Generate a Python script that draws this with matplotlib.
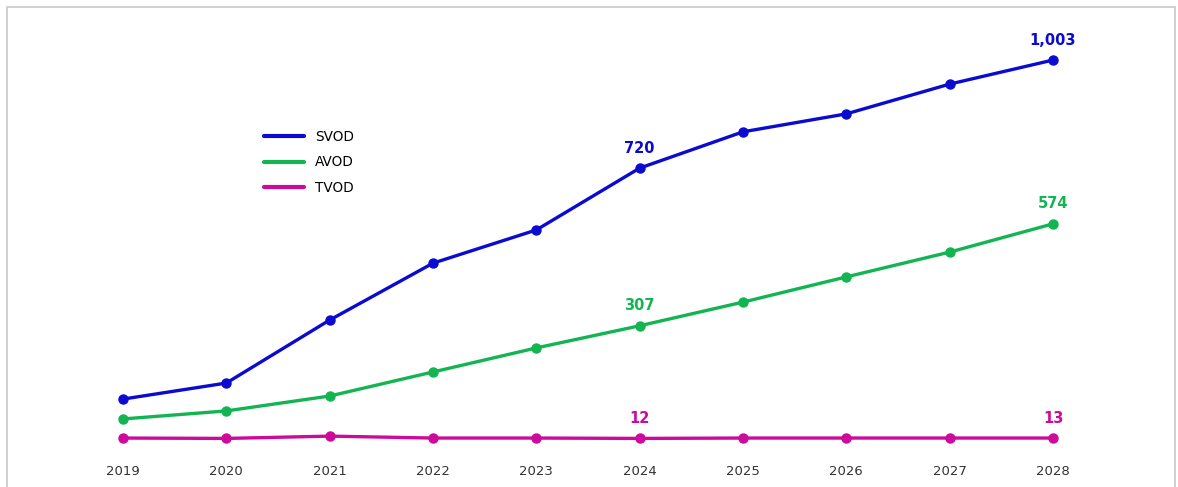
import matplotlib
matplotlib.use("Agg")
import matplotlib.pyplot as plt
from matplotlib.patches import Rectangle

# data
years = [2019, 2020, 2021, 2022, 2023, 2024, 2025, 2026, 2027, 2028]
svod = [115, 157, 322, 471, 558, 720, 815, 862, 940, 1003]
avod = [63, 84, 123, 186, 249, 307, 369, 435, 500, 574]
tvod = [13, 12, 18, 13, 13, 12, 13, 13, 13, 13]

# which points get a value label
svod_labels = [(2024, 720), (2028, 1003)]
avod_labels = [(2024, 307), (2028, 574)]
tvod_labels = [(2024, 12), (2028, 13)]

blue = '#0a0ad0'
green = '#12b552'
magenta = '#cc0a9c'

W, H = 1178, 487
fig = plt.figure(figsize=(W / 100, H / 100), dpi=100)

# light grey frame around the figure (open at the bottom)
fig.patches.append(Rectangle((7 / W, -0.1), (1175 - 7) / W, (H - 7) / H + 0.1,
                             transform=fig.transFigure, fill=False,
                             edgecolor='#c8c8c8', lw=1.2))

ax = fig.add_axes([71.3 / W, (H - 443) / H, (1104.7 - 71.3) / W, 420 / H])

series = [('SVOD', svod, blue, svod_labels),
          ('AVOD', avod, green, avod_labels),
          ('TVOD', tvod, magenta, tvod_labels)]

for name, vals, col, labs in series:
    ax.plot(years, vals, color=col, lw=2.4, marker='o', markersize=6.5,
            label=name, solid_capstyle='round')
    for yr, v in labs:
        ax.annotate(f'{v:,}', (yr, v), xytext=(0, 9), textcoords='offset points',
                    ha='center', va='bottom', color=col, fontsize=10.5,
                    fontweight='bold')

ax.set_xlim(2018.5, 2028.5)
ax.set_ylim(0, 1100)
ax.set_xticks(years)
ax.set_xticklabels([str(y) for y in years], fontsize=9.5, color='#333333')
ax.tick_params(axis='x', length=0, pad=16)
ax.set_yticks([])
for s in ax.spines.values():
    s.set_visible(False)

leg = ax.legend(loc='upper left', bbox_to_anchor=(180 / (1104.7 - 71.3), 0.775),
                frameon=False, fontsize=9.8, handlelength=3.0, handletextpad=0.8,
                labelspacing=0.85)
for line in leg.get_lines():
    line.set_linewidth(3)
    line.set_marker('')

fig.savefig('out.png', dpi=100)
